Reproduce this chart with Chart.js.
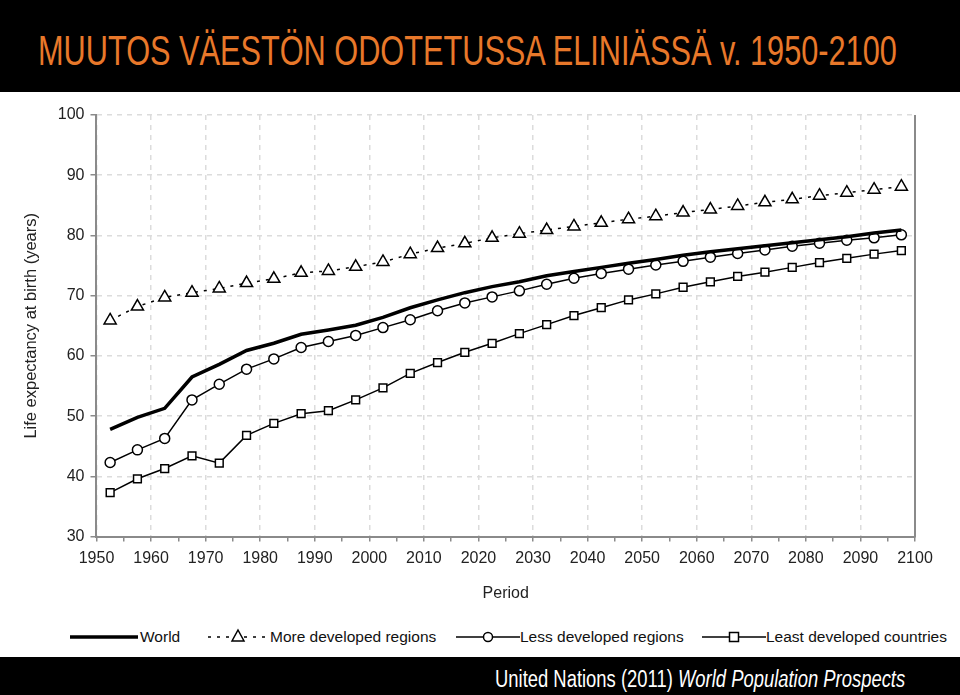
<!DOCTYPE html>
<html>
<head>
<meta charset="utf-8">
<script src="https://cdn.jsdelivr.net/npm/chart.js@4"></script>
<style>
  html, body { margin: 0; padding: 0; background: #fff; }
  body { width: 960px; height: 695px; position: relative; overflow: hidden; font-family: "Liberation Sans", Arial, sans-serif; }
  #header { position: absolute; left: 0; top: 0; width: 960px; height: 92px; background: #000; }
  #title { position: absolute; left: 38px; top: 27px; color: #e8782a; font-size: 42px; white-space: nowrap; transform-origin: 0 0; }
  #chartBox { position: absolute; left: 0; top: 92px; width: 960px; height: 523px; }
  #legend { position: absolute; left: 0; top: 626px; width: 960px; height: 22px; font-size: 15.5px; color: #111; }
  .lg { position: absolute; top: 0; display: flex; align-items: center; height: 22px; white-space: nowrap; }
  #footer { position: absolute; left: 0; top: 657px; width: 960px; height: 38px; background: #000; }
  #source { position: absolute; left: 495px; top: 9px; color: #fff; font-size: 23px; white-space: nowrap; transform-origin: 0 0; }
</style>
</head>
<body>
<div id="header"><div id="title">MUUTOS VÄESTÖN ODOTETUSSA ELINIÄSSÄ v. 1950-2100</div></div>
<div id="chartBox"><canvas id="lifeChart"></canvas></div>
<div id="legend">
  <div class="lg" style="left:70px">
    <svg width="70" height="22"><line x1="0" y1="11" x2="68" y2="11" stroke="#000" stroke-width="3.5"/></svg>World
  </div>
  <div class="lg" style="left:206px">
    <svg width="64" height="22"><line x1="2" y1="11" x2="62" y2="11" stroke="#000" stroke-width="1.5" stroke-dasharray="3,6"/><polygon points="32,4 38,15 26,15" fill="#fff" stroke="#000" stroke-width="1.5"/></svg>More developed regions
  </div>
  <div class="lg" style="left:456px">
    <svg width="64" height="22"><line x1="0" y1="11" x2="64" y2="11" stroke="#000" stroke-width="1.5"/><circle cx="32" cy="11" r="4.5" fill="#fff" stroke="#000" stroke-width="1.5"/></svg>Less developed regions
  </div>
  <div class="lg" style="left:702px">
    <svg width="64" height="22"><line x1="0" y1="11" x2="64" y2="11" stroke="#000" stroke-width="1.5"/><rect x="27.5" y="6.5" width="9" height="9" fill="#fff" stroke="#000" stroke-width="1.5"/></svg>Least developed countries
  </div>
</div>
<div id="footer"><div id="source">United Nations (2011) <i>World Population Prospects</i></div></div>
<script>
// mid-points of the five-year periods
const periods = [1952.5, 1957.5, 1962.5, 1967.5, 1972.5, 1977.5, 1982.5, 1987.5, 1992.5, 1997.5,
                 2002.5, 2007.5, 2012.5, 2017.5, 2022.5, 2027.5, 2032.5, 2037.5, 2042.5, 2047.5,
                 2052.5, 2057.5, 2062.5, 2067.5, 2072.5, 2077.5, 2082.5, 2087.5, 2092.5, 2097.5];

const world = [47.8, 49.8, 51.3, 56.5, 58.6, 60.9, 62.1, 63.6, 64.3, 65.1,
               66.4, 68.0, 69.3, 70.5, 71.5, 72.3, 73.3, 74.0, 74.7, 75.4,
               76.0, 76.7, 77.3, 77.8, 78.3, 78.8, 79.3, 79.8, 80.4, 80.9];

const moreDeveloped = [65.9, 68.2, 69.7, 70.5, 71.2, 72.1, 72.8, 73.8, 74.1, 74.8,
                       75.6, 76.9, 77.9, 78.7, 79.6, 80.3, 80.9, 81.5, 82.1, 82.7,
                       83.2, 83.8, 84.3, 84.9, 85.5, 86.0, 86.6, 87.1, 87.6, 88.1];

const lessDeveloped = [42.3, 44.4, 46.3, 52.7, 55.3, 57.8, 59.5, 61.4, 62.4, 63.4,
                       64.7, 66.0, 67.5, 68.8, 69.8, 70.8, 71.9, 72.9, 73.7, 74.4,
                       75.1, 75.7, 76.4, 77.0, 77.6, 78.2, 78.7, 79.2, 79.6, 80.1];

const leastDeveloped = [37.3, 39.6, 41.3, 43.4, 42.2, 46.8, 48.8, 50.4, 50.9, 52.7,
                        54.7, 57.1, 58.9, 60.6, 62.1, 63.7, 65.2, 66.7, 68.0, 69.3,
                        70.3, 71.4, 72.3, 73.2, 73.9, 74.7, 75.5, 76.2, 76.9, 77.5];

const toPoints = vals => vals.map((v, i) => ({ x: periods[i], y: v }));

// the source uses a condensed face; squeeze the text to its width
function squeeze(id, width) {
    const el = document.getElementById(id);
    el.style.transform = 'scaleX(' + (width / el.offsetWidth) + ')';
}
squeeze('title', 859);
squeeze('source', 410);

const frameRight = {
    id: 'frameRight',
    afterDraw(chart) {
        const a = chart.chartArea;
        const c = chart.ctx;
        c.save();
        c.strokeStyle = '#8a8a8a';
        c.lineWidth = 2;
        c.beginPath();
        c.moveTo(a.right, a.top);
        c.lineTo(a.right, a.bottom + 1);
        c.stroke();
        c.restore();
    }
};

const tickFont = { family: 'Liberation Sans', size: 16 };

new Chart(document.getElementById('lifeChart'), {
    type: 'line',
    data: {
        datasets: [
            {
                label: 'World',
                data: toPoints(world),
                borderColor: '#000',
                borderWidth: 3.5,
                pointRadius: 0
            },
            {
                label: 'More developed regions',
                data: toPoints(moreDeveloped),
                borderColor: '#000',
                borderWidth: 1.5,
                borderDash: [3, 6],
                pointStyle: 'triangle',
                pointRadius: 7,
                pointBorderWidth: 1.5,
                pointBackgroundColor: '#fff',
                pointBorderColor: '#000'
            },
            {
                label: 'Less developed regions',
                data: toPoints(lessDeveloped),
                borderColor: '#000',
                borderWidth: 1.5,
                pointStyle: 'circle',
                pointRadius: 5,
                pointBorderWidth: 1.5,
                pointBackgroundColor: '#fff',
                pointBorderColor: '#000'
            },
            {
                label: 'Least developed countries',
                data: toPoints(leastDeveloped),
                borderColor: '#000',
                borderWidth: 1.5,
                pointStyle: 'rect',
                pointRadius: 5.5,
                pointBorderWidth: 1.5,
                pointBackgroundColor: '#fff',
                pointBorderColor: '#000'
            }
        ]
    },
    options: {
        responsive: true,
        maintainAspectRatio: false,
        animation: false,
        layout: { padding: { left: 18, right: 45, top: 23, bottom: 8 } },
        plugins: {
            legend: { display: false },
            tooltip: { enabled: false }
        },
        scales: {
            x: {
                type: 'linear',
                min: 1950,
                max: 2100,
                border: { color: '#8a8a8a', width: 2, dash: [5, 5] },
                grid: {
                    color: ctx => (ctx.tick && ctx.tick.value % 10 === 0) ? '#dcdcdc' : 'rgba(0,0,0,0)',
                    tickColor: '#8a8a8a',
                    tickLength: 5,
                    tickBorderDash: [],
                    lineWidth: 1.5
                },
                ticks: {
                    stepSize: 5,
                    autoSkip: false,
                    maxRotation: 0,
                    padding: 7,
                    color: '#222',
                    font: tickFont,
                    callback: v => (v % 10 === 0 ? String(v) : '')
                },
                title: {
                    display: true,
                    text: 'Period',
                    color: '#222',
                    padding: { top: 9 },
                    font: { family: 'Liberation Sans', size: 16 }
                }
            },
            y: {
                min: 30,
                max: 100,
                border: { color: '#8a8a8a', width: 2, dash: [5, 5] },
                grid: {
                    color: '#dcdcdc',
                    tickColor: '#8a8a8a',
                    tickLength: 6,
                    tickBorderDash: [],
                    lineWidth: 1.5
                },
                ticks: {
                    stepSize: 10,
                    padding: 6,
                    color: '#222',
                    font: tickFont
                },
                title: {
                    display: true,
                    text: 'Life expectancy at birth (years)',
                    color: '#222',
                    padding: { bottom: 10 },
                    font: { family: 'Liberation Sans', size: 16.5 }
                }
            }
        }
    },
    plugins: [frameRight]
});
</script>
</body>
</html>
